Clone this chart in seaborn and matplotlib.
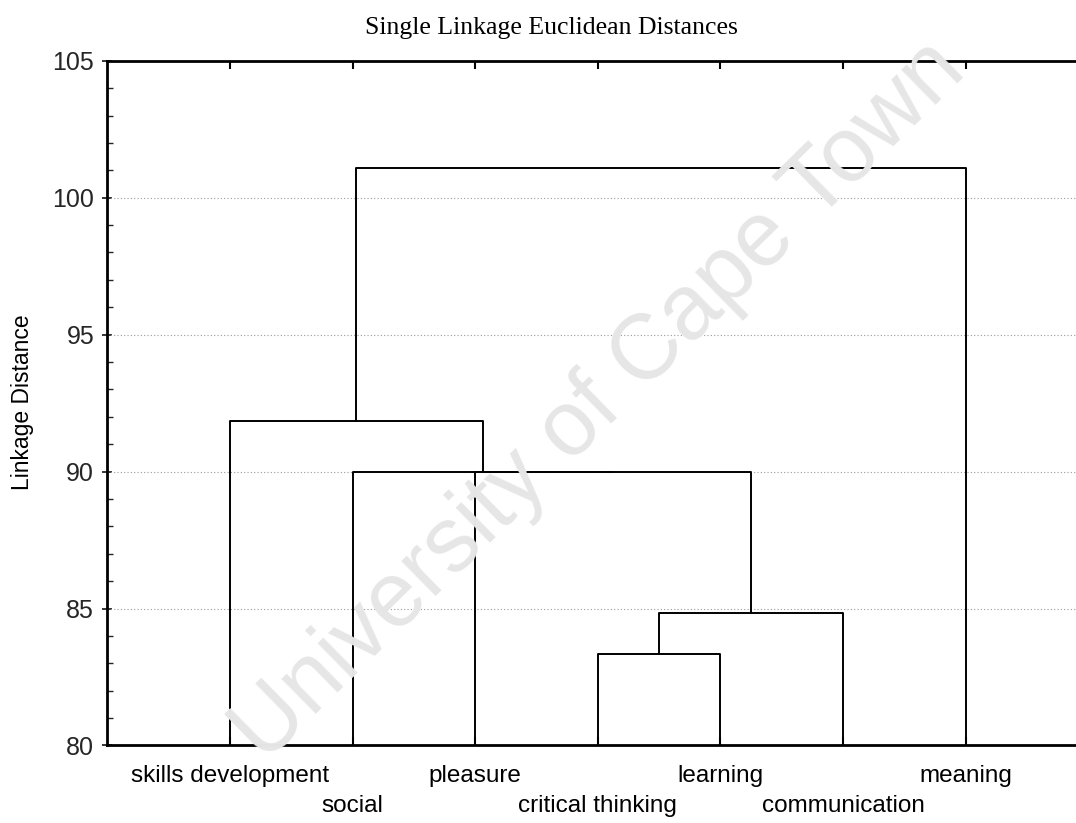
import numpy as np
import pandas as pd
import matplotlib
matplotlib.use("Agg")
import matplotlib.pyplot as plt
from matplotlib.ticker import MultipleLocator
import seaborn as sns

# ---- data ----
leaves = ["skills development", "social", "pleasure", "critical thinking",
          "learning", "communication", "meaning"]
# merges (ids 0..6 = leaves, 7.. = clusters created in order)
merge_left = [3, 7, 2, 1, 0, 11]
merge_right = [4, 5, 8, 9, 10, 6]
merge_height = [83.35, 84.82, 90.0, 90.0, 91.85, 101.1]
y_ticks = [80, 85, 90, 95, 100, 105]

title = "Single Linkage Euclidean Distances"
ylabel = "Linkage Distance"

sns.set_theme(style="white")
plt.rcParams["font.family"] = ["Liberation Sans", "DejaVu Sans"]

fig = plt.figure(figsize=(10.76, 8.23), dpi=100)
ax = fig.add_axes([0.0998, 0.0942, 0.9115, 0.832])

ymin = y_ticks[0]
pos = {i: float(i + 1) for i in range(len(leaves))}
hgt = {i: ymin for i in range(len(leaves))}
for k, (a, b, h) in enumerate(zip(merge_left, merge_right, merge_height)):
    cid = len(leaves) + k
    seg = pd.DataFrame({"x": [pos[a], pos[a], pos[b], pos[b]],
                        "y": [hgt[a], h, h, hgt[b]]})
    sns.lineplot(data=seg, x="x", y="y", sort=False, estimator=None,
                 color="black", lw=1.4, ax=ax, zorder=3)
    pos[cid] = (pos[a] + pos[b]) / 2
    hgt[cid] = h

ax.set_xlim(0, len(leaves) + 1)
ax.set_ylim(y_ticks[0], y_ticks[-1])
ax.set_yticks(y_ticks)
ax.yaxis.set_minor_locator(MultipleLocator(1))
ax.grid(False)
for yv in y_ticks[1:-1]:
    ax.axhline(yv, color="#9a9a9a", lw=0.8, ls=(0, (1, 2)), zorder=1)

ax.set_xticks(range(1, len(leaves) + 1))
labs = [l if i % 2 == 0 else "\n" + l for i, l in enumerate(leaves)]
ax.set_xticklabels(labs, fontsize=17.5, linespacing=1.5)
ax.tick_params(axis="x", which="both", top=True, bottom=True, direction="in",
               length=6, width=1.5, pad=14, colors="black")
ax.tick_params(axis="y", which="major", direction="inout", length=7, width=1.3,
               labelsize=18, pad=6, left=True)
ax.tick_params(axis="y", which="minor", direction="in", length=4, width=1.0, left=True)
ax.set_xlabel("")
ax.set_ylabel("")
for s in ax.spines.values():
    s.set_linewidth(2.0)
    s.set_color("black")

fig.text(23 / 1076, 1 - 402 / 823, ylabel, rotation=90, ha="center", va="center",
         fontsize=16.5, color="black")
fig.text(551 / 1076, 1 - 28 / 823, title, ha="center", va="center",
         fontsize=18.5, family=["Liberation Serif", "DejaVu Serif"], color="black")

fig.text(600 / 1076, 1 - 402 / 823, "University of Cape Town", rotation=44.5,
         rotation_mode="anchor", ha="center", va="center", fontsize=66,
         color="#e6e6e6", zorder=0)

fig.savefig("out.png", dpi=100)
